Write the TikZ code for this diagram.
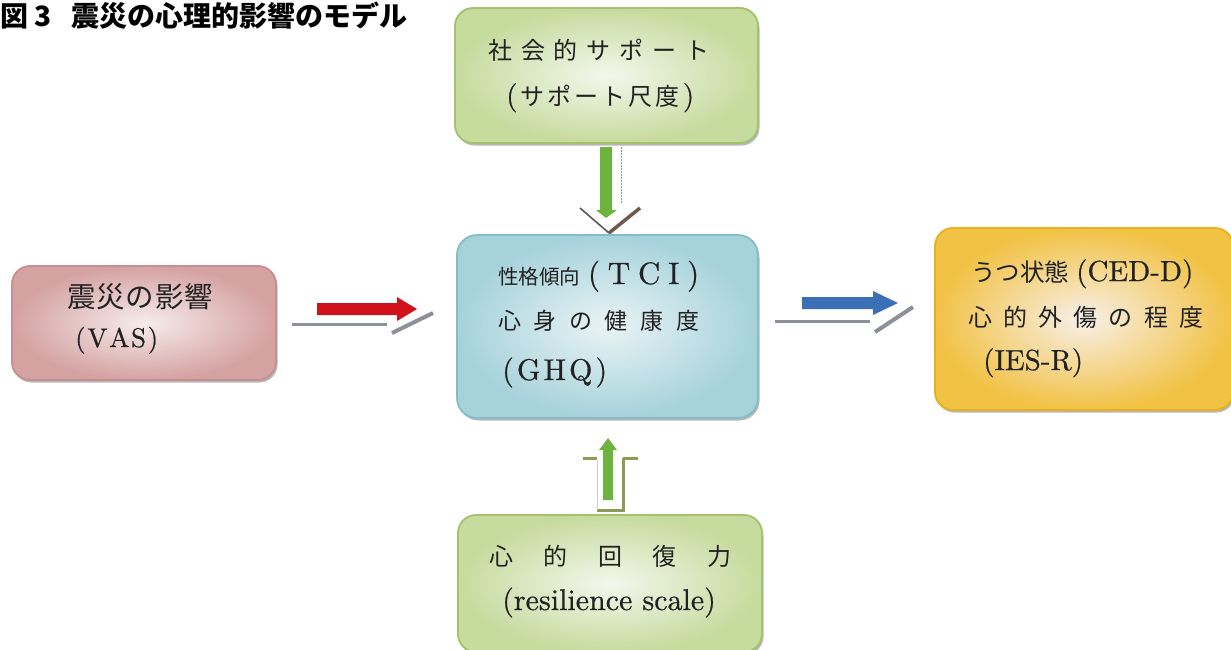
\documentclass[tikz,border=0pt]{standalone}
\usepackage{fontspec}
\newfontfamily\jp{Noto Sans CJK JP}
\newfontfamily\lat[FakeBold=0.6]{lmroman10-regular.otf}
\usetikzlibrary{shadows}
\newcommand\jtxt[2]{{\jp\fontsize{#1}{#1}\selectfont #2}}
\newcommand\ltxt[2]{{\lat\fontsize{#1}{#1}\selectfont #2}}
\definecolor{grnI}{HTML}{F4F7EC}
\definecolor{grnO}{HTML}{C6DB9E}
\definecolor{grnB}{HTML}{A2C26C}
\definecolor{bluI}{HTML}{E9F4F6}
\definecolor{bluO}{HTML}{A6D2DB}
\definecolor{bluB}{HTML}{86BCC7}
\definecolor{pnkI}{HTML}{F6EDEB}
\definecolor{pnkO}{HTML}{D5A2A2}
\definecolor{pnkB}{HTML}{C69090}
\definecolor{orgI}{HTML}{F8F0EA}
\definecolor{orgO}{HTML}{F2C244}
\definecolor{orgB}{HTML}{E8B01C}
\definecolor{txtc}{HTML}{222222}
\definecolor{arrRed}{HTML}{D0121B}
\definecolor{arrBlue}{HTML}{3B6FB6}
\definecolor{arrGreen}{HTML}{6DB43F}
\definecolor{shdGray}{HTML}{8C9099}
\definecolor{shdBrown}{HTML}{6E5A4C}
\definecolor{shdOlive}{HTML}{8E9A56}
\begin{document}
\begin{tikzpicture}[x=1pt,y=-1pt,
  boxbase/.style={draw, rounded corners=18pt, line width=1.8pt, inner sep=0pt,
    drop shadow={shadow xshift=1.5pt, shadow yshift=-2.5pt, opacity=0.4, fill=black!70}},
  greenbox/.style={boxbase, draw=grnB, inner color=grnI, outer color=grnO},
  bluebox/.style={boxbase, draw=bluB, inner color=bluI, outer color=bluO},
  pinkbox/.style={boxbase, draw=pnkB, inner color=pnkI, outer color=pnkO},
  orangebox/.style={boxbase, draw=orgB, inner color=orgI, outer color=orgO},
  txt/.style={inner sep=0pt, anchor=base west, text=txtc},
  shline/.style={draw=shdGray, line width=3pt},
  shdiag/.style={draw=shdGray, line width=4pt},
]
\useasboundingbox (0,0) rectangle (1231,649);

% title
\node[txt, text=black] (ttl1) at (0,26) {\jtxt{28}{\bfseries 図 3}};
\node[txt, text=black] (ttl2) at (71,26) {\jtxt{28}{\bfseries 震災の心理的影響のモデル}};

% boxes
\node[greenbox, minimum width=303pt, minimum height=135pt] (top) at (606.5,75.5) {};
\node[bluebox, minimum width=301pt, minimum height=183pt, rounded corners=20pt] (mid) at (607.5,326.5) {};
\node[pinkbox, minimum width=264pt, minimum height=114pt] (lft) at (144,323) {};
\node[orangebox, minimum width=298pt, minimum height=182pt] (rgt) at (1084,319) {};
\node[greenbox, minimum width=304pt, minimum height=137pt] (bot) at (610,583.5) {};

% top box text
\node[txt] (top1) at (488,59) {\jtxt{24}{\makebox[221pt][s]{社\hfill 会\hfill 的\hfill サ\hfill ポ\hfill ー\hfill ト}}};
\node[txt] (top2) at (506,105) {\makebox[188pt][s]{\ltxt{29}{(}\hfill\jtxt{24}{サ}\hfill\jtxt{24}{ポ}\hfill\jtxt{24}{ー}\hfill\jtxt{24}{ト}\hfill\jtxt{24}{尺}\hfill\jtxt{24}{度}\hfill\ltxt{29}{)}}};

% middle box text
\node[txt] (mid1) at (498,284) {\makebox[201pt][s]{\jtxt{20.5}{性格傾向}\hfill\ltxt{31}{(}\hfill\ltxt{31}{T}\hfill\ltxt{31}{C}\hfill\ltxt{31}{I}\hfill\ltxt{31}{)}}};
\node[txt] (mid2) at (498,329) {\jtxt{23}{\makebox[201pt][s]{心\hfill 身\hfill の\hfill 健\hfill 康\hfill 度}}};
\node[txt] (mid3) at (502,380) {\makebox[105pt][s]{\ltxt{30}{(}\hfill\ltxt{30}{G}\hfill\ltxt{30}{H}\hfill\ltxt{30}{Q}\hfill\ltxt{30}{)}}};

% left box text
\node[txt] (lft1) at (67,307) {\jtxt{28.5}{\makebox[146pt][s]{震\hfill 災\hfill の\hfill 影\hfill 響}}};
\node[txt] (lft2) at (75,347) {\makebox[83pt][s]{\ltxt{27}{(}\hfill\ltxt{27}{V}\hfill\ltxt{27}{A}\hfill\ltxt{27}{S}\hfill\ltxt{27}{)}}};

% right box text
\node[txt] (rgt1) at (971,281) {\jtxt{24.5}{うつ状態}\hspace{7pt}\ltxt{29}{(CED-D)}};
\node[txt] (rgt2) at (968,326) {\jtxt{24}{\makebox[235pt][s]{心\hfill 的\hfill 外\hfill 傷\hfill の\hfill 程\hfill 度}}};
\node[txt] (rgt3) at (983,370) {\ltxt{29}{(IES-R)}};

% bottom box text
\node[txt] (bot1) at (489,565) {\jtxt{24}{\makebox[242pt][s]{心\hfill 的\hfill 回\hfill 復\hfill 力}}};
\node[txt] (bot2) at (502,610) {\ltxt{30}{(resilience scale)}};

% red arrow (left -> middle)
\draw[shline] (292,324) -- (387,324);
\draw[shdiag] (392,333) -- (433,313);
\fill[arrRed] (317,303) -- (397,303) -- (397,297) -- (417,309) -- (397,321) -- (397,315) -- (317,315) -- cycle;

% blue arrow (middle -> right)
\draw[shline] (775,321) -- (870,321);
\draw[shdiag] (875,332) -- (913,307);
\fill[arrBlue] (802,297) -- (873,297) -- (873,291) -- (898,303) -- (873,315) -- (873,309) -- (802,309) -- cycle;

% down arrow (top -> middle)
\draw[draw=shdGray, line width=1pt, dash pattern=on 2pt off 1pt] (621,147) -- (621,203);
\draw[draw=black!65, line width=1.6pt] (580,208) -- (609,233);
\draw[draw=shdBrown, line width=3.5pt] (609,233) -- (640,208);
\fill[arrGreen] (600,147) -- (612,147) -- (612,210) -- (617,210) -- (606,218) -- (596,210) -- (600,210) -- cycle;

% up arrow (bottom -> middle)
\draw[draw=shdOlive, line width=3pt] (583,458) -- (597,458);
\draw[draw=shdOlive, line width=3pt] (623,458) -- (638,458);
\draw[draw=shdOlive, line width=3pt] (623,458) -- (623,510) -- (597,510);
\draw[draw=black!20, line width=1pt] (597,460) -- (597,510);
\fill[arrGreen] (603,500) -- (603,450) -- (599,450) -- (608,438) -- (617,450) -- (613,450) -- (613,500) -- cycle;
\end{tikzpicture}
\end{document}
